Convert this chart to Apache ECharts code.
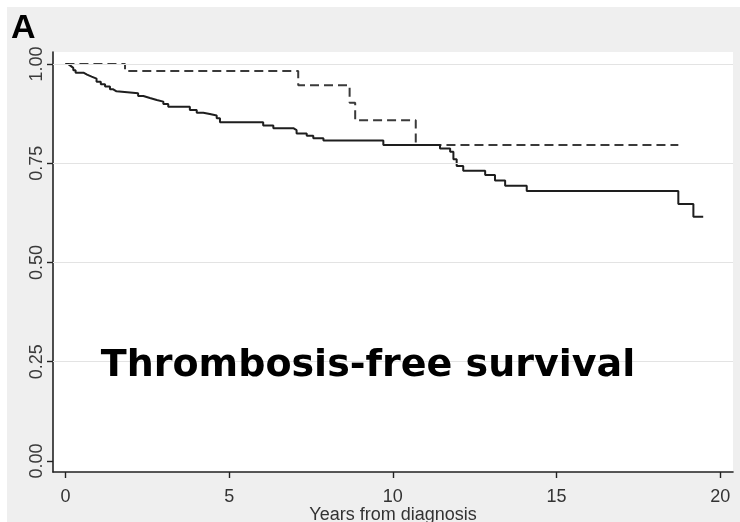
<!DOCTYPE html>
<html>
<head>
<meta charset="utf-8">
<script src="https://cdn.jsdelivr.net/npm/echarts@6/dist/echarts.min.js"></script>
<style>
  html, body { margin: 0; padding: 0; background: #ffffff; }
  #frame { position: relative; width: 740px; height: 522px; background: #ffffff; }
  #panel { position: absolute; left: 7px; top: 7px; right: 0; bottom: 0; background: #efefef; }
  #chart { position: absolute; left: 0; top: 0; width: 740px; height: 522px; }
</style>
</head>
<body>
<div id="frame">
  <div id="panel"></div>
  <div id="chart"></div>
</div>
<script>
// Kaplan-Meier estimates: event times (years) and survival after each event
const groupATimes = [0, 0.08, 0.16, 0.24, 0.31, 0.55, 0.66, 0.80, 0.95, 1.08, 1.21, 1.36, 1.46, 1.56,
  2.22, 2.38, 2.58, 2.79, 2.99, 3.14, 3.80, 4.01, 4.21, 4.41, 4.62, 4.72, 6.04, 6.35, 6.96, 7.06,
  7.37, 7.57, 7.88, 9.71, 11.44, 11.75, 11.85, 11.95, 12.15, 12.82, 13.12, 13.43, 14.09, 18.72,
  19.18, 19.48];
const groupASurv = [1.000, 0.995, 0.990, 0.984, 0.978, 0.973, 0.968, 0.963, 0.955, 0.949, 0.943, 0.936,
  0.931, 0.926, 0.919, 0.914, 0.909, 0.905, 0.899, 0.892, 0.884, 0.877, 0.874, 0.870, 0.863, 0.853,
  0.845, 0.838, 0.833, 0.825, 0.819, 0.813, 0.807, 0.796, 0.787, 0.779, 0.760, 0.743, 0.731, 0.720,
  0.706, 0.693, 0.680, 0.647, 0.615, 0.615];

const groupBTimes = [0, 1.82, 7.11, 8.68, 8.85, 10.70, 18.72];
const groupBSurv = [1.000, 0.982, 0.946, 0.902, 0.858, 0.796, 0.796];

// Axis ticks and labels
const xTicks = [0, 5, 10, 15, 20];
const yTicks = [0, 0.25, 0.5, 0.75, 1.0];
const yTickLabels = ['0.00', '0.25', '0.50', '0.75', '1.00'];
const gridValues = [0.25, 0.5, 0.75, 1.0];

const xTitle = 'Years from diagnosis';
const panelLetter = 'A';
const panelCaption = 'Thrombosis-free survival';

function pairs(xs, ys) {
  return xs.map((x, i) => [x, ys[i]]);
}

const chart = echarts.init(document.getElementById('chart'), null, { renderer: 'canvas' });

chart.setOption({
  backgroundColor: 'transparent',
  animation: false,
  grid: {
    left: 53, right: 7, top: 52, bottom: 50,
    containLabel: false,
    outerBoundsMode: 'none',
    show: true, backgroundColor: '#ffffff', borderWidth: 0
  },
  xAxis: {
    type: 'value',
    min: -0.38, max: 20.39,
    name: xTitle,
    nameLocation: 'middle',
    nameGap: 34,
    nameMoveOverlap: false,
    nameTextStyle: { fontFamily: 'Liberation Sans', fontSize: 18, color: '#333' },
    axisLine: { show: true, onZero: false, lineStyle: { color: '#222', width: 1.6 } },
    axisTick: { show: true, length: 6, customValues: xTicks, lineStyle: { color: '#222', width: 1.4 } },
    axisLabel: { customValues: xTicks, margin: 16, fontFamily: 'Liberation Sans', fontSize: 18, color: '#333' },
    splitLine: { show: false }
  },
  yAxis: {
    type: 'value',
    min: -0.028, max: 1.030,
    axisLine: { show: true, onZero: false, lineStyle: { color: '#222', width: 1.6 } },
    axisTick: { show: true, length: 6, customValues: yTicks, lineStyle: { color: '#222', width: 1.4 } },
    axisLabel: {
      customValues: yTicks,
      rotate: 90,
      margin: 7,
      fontFamily: 'Liberation Sans', fontSize: 18, color: '#3a3a3a',
      formatter: v => yTickLabels[yTicks.indexOf(v)] ?? v.toFixed(2)
    },
    splitLine: { show: false }
  },
  series: [
    {
      type: 'line',
      name: 'grid',
      data: [],
      z: 1,
      silent: true,
      markLine: {
        silent: true,
        symbol: ['none', 'none'],
        label: { show: false },
        lineStyle: { color: '#e3e3e3', width: 1.2, type: 'solid' },
        data: gridValues.map(v => ({ yAxis: v }))
      }
    },
    {
      type: 'line',
      name: 'Group B',
      data: pairs(groupBTimes, groupBSurv),
      step: 'end',
      showSymbol: false,
      z: 3,
      lineStyle: { color: '#3a3a3a', width: 2, type: [9, 5] }
    },
    {
      type: 'line',
      name: 'Group A',
      data: pairs(groupATimes, groupASurv),
      step: 'end',
      showSymbol: false,
      z: 4,
      lineStyle: { color: '#1e1e1e', width: 2 }
    }
  ],
  graphic: [
    {
      type: 'text', left: 11, top: 12, z: 10,
      style: { text: panelLetter, font: 'bold 34px "Liberation Sans"', fill: '#000' }
    },
    {
      type: 'text', x: 368, y: 366, z: 10,
      style: {
        text: panelCaption, font: 'bold 38px "DejaVu Sans"', fill: '#000',
        align: 'center', verticalAlign: 'middle'
      }
    }
  ]
});
</script>
</body>
</html>
